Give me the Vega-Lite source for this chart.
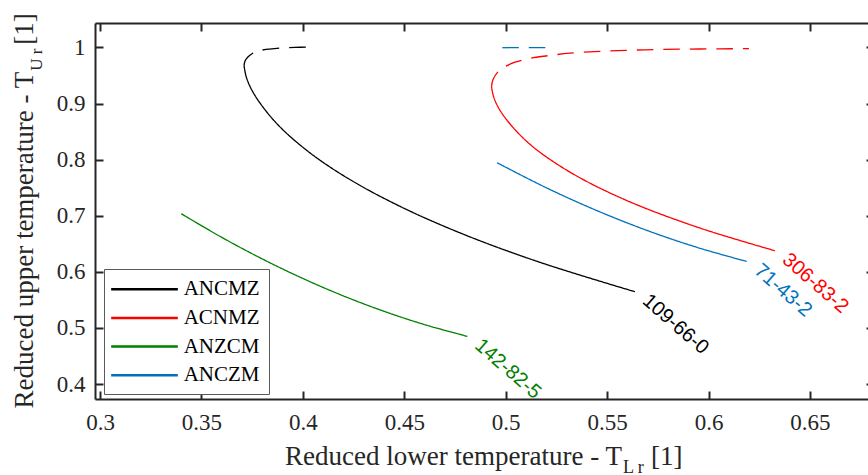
{
  "$schema": "https://vega.github.io/schema/vega-lite/v6.json",
  "width": 773,
  "height": 376,
  "autosize": "none",
  "padding": {"left": 95, "top": 23, "right": 0, "bottom": 76},
  "background": "white",
  "config": {
    "view": {"stroke": null},
    "axis": {
      "grid": false,
      "domainColor": "#262626",
      "domainWidth": 2,
      "tickColor": "#262626",
      "tickWidth": 2,
      "tickSize": -8,
      "labelFont": "Liberation Serif",
      "labelFontSize": 23,
      "labelColor": "#262626",
      "labelPadding": 18
    }
  },
  "datasets": {
    "curves": [
      {"s": "ANCMZ", "b": "dashed", "i": 0, "x": 0.3710, "y": 0.9674},
      {"s": "ANCMZ", "b": "dashed", "i": 1, "x": 0.3715, "y": 0.9763},
      {"s": "ANCMZ", "b": "dashed", "i": 2, "x": 0.3730, "y": 0.9834},
      {"s": "ANCMZ", "b": "dashed", "i": 3, "x": 0.3749, "y": 0.9888},
      {"s": "ANCMZ", "b": "dashed", "i": 4, "x": 0.3774, "y": 0.9932},
      {"s": "ANCMZ", "b": "dashed", "i": 5, "x": 0.3818, "y": 0.9963},
      {"s": "ANCMZ", "b": "dashed", "i": 6, "x": 0.3887, "y": 0.9989},
      {"s": "ANCMZ", "b": "dashed", "i": 7, "x": 0.3961, "y": 1.0000},
      {"s": "ANCMZ", "b": "dashed", "i": 8, "x": 0.4030, "y": 1.0005},
      {"s": "ANCMZ", "b": "solid", "i": 0, "x": 0.3710, "y": 0.9674},
      {"s": "ANCMZ", "b": "solid", "i": 1, "x": 0.3721, "y": 0.947},
      {"s": "ANCMZ", "b": "solid", "i": 2, "x": 0.3759, "y": 0.917},
      {"s": "ANCMZ", "b": "solid", "i": 3, "x": 0.3864, "y": 0.867},
      {"s": "ANCMZ", "b": "solid", "i": 4, "x": 0.4017, "y": 0.817},
      {"s": "ANCMZ", "b": "solid", "i": 5, "x": 0.4220, "y": 0.767},
      {"s": "ANCMZ", "b": "solid", "i": 6, "x": 0.4477, "y": 0.717},
      {"s": "ANCMZ", "b": "solid", "i": 7, "x": 0.4791, "y": 0.667},
      {"s": "ANCMZ", "b": "solid", "i": 8, "x": 0.5168, "y": 0.617},
      {"s": "ANCMZ", "b": "solid", "i": 9, "x": 0.5637, "y": 0.5645},

      {"s": "ACNMZ", "b": "dashed", "i": 0, "x": 0.4930, "y": 0.9299},
      {"s": "ACNMZ", "b": "dashed", "i": 1, "x": 0.4937, "y": 0.9424},
      {"s": "ACNMZ", "b": "dashed", "i": 2, "x": 0.4962, "y": 0.9567},
      {"s": "ACNMZ", "b": "dashed", "i": 3, "x": 0.4996, "y": 0.9656},
      {"s": "ACNMZ", "b": "dashed", "i": 4, "x": 0.5046, "y": 0.9736},
      {"s": "ACNMZ", "b": "dashed", "i": 5, "x": 0.5120, "y": 0.9807},
      {"s": "ACNMZ", "b": "dashed", "i": 6, "x": 0.5208, "y": 0.9852},
      {"s": "ACNMZ", "b": "dashed", "i": 7, "x": 0.5316, "y": 0.9897},
      {"s": "ACNMZ", "b": "dashed", "i": 8, "x": 0.5465, "y": 0.9929},
      {"s": "ACNMZ", "b": "dashed", "i": 9, "x": 0.5613, "y": 0.9950},
      {"s": "ACNMZ", "b": "dashed", "i": 10, "x": 0.5760, "y": 0.9963},
      {"s": "ACNMZ", "b": "dashed", "i": 11, "x": 0.5908, "y": 0.9970},
      {"s": "ACNMZ", "b": "dashed", "i": 12, "x": 0.6056, "y": 0.9975},
      {"s": "ACNMZ", "b": "dashed", "i": 13, "x": 0.6199, "y": 0.9977},
      {"s": "ACNMZ", "b": "solid", "i": 0, "x": 0.4930, "y": 0.9299},
      {"s": "ACNMZ", "b": "solid", "i": 1, "x": 0.4942, "y": 0.910},
      {"s": "ACNMZ", "b": "solid", "i": 2, "x": 0.4986, "y": 0.880},
      {"s": "ACNMZ", "b": "solid", "i": 3, "x": 0.5111, "y": 0.830},
      {"s": "ACNMZ", "b": "solid", "i": 4, "x": 0.5306, "y": 0.780},
      {"s": "ACNMZ", "b": "solid", "i": 5, "x": 0.5578, "y": 0.730},
      {"s": "ACNMZ", "b": "solid", "i": 6, "x": 0.5941, "y": 0.680},
      {"s": "ACNMZ", "b": "solid", "i": 7, "x": 0.6327, "y": 0.6376},

      {"s": "ANZCM", "b": "solid", "i": 0, "x": 0.340, "y": 0.7036},
      {"s": "ANZCM", "b": "solid", "i": 1, "x": 0.360, "y": 0.6614},
      {"s": "ANZCM", "b": "solid", "i": 2, "x": 0.380, "y": 0.6229},
      {"s": "ANZCM", "b": "solid", "i": 3, "x": 0.400, "y": 0.5881},
      {"s": "ANZCM", "b": "solid", "i": 4, "x": 0.420, "y": 0.5570},
      {"s": "ANZCM", "b": "solid", "i": 5, "x": 0.440, "y": 0.5296},
      {"s": "ANZCM", "b": "solid", "i": 6, "x": 0.460, "y": 0.5059},
      {"s": "ANZCM", "b": "solid", "i": 7, "x": 0.4811, "y": 0.4849},

      {"s": "ANCZM", "b": "dashed", "i": 0, "x": 0.4983, "y": 0.9995},
      {"s": "ANCZM", "b": "dashed", "i": 1, "x": 0.5197, "y": 0.9995},
      {"s": "ANCZM", "b": "solid", "i": 0, "x": 0.4957, "y": 0.7945},
      {"s": "ANCZM", "b": "solid", "i": 1, "x": 0.5200, "y": 0.7498},
      {"s": "ANCZM", "b": "solid", "i": 2, "x": 0.5450, "y": 0.7090},
      {"s": "ANCZM", "b": "solid", "i": 3, "x": 0.5700, "y": 0.6733},
      {"s": "ANCZM", "b": "solid", "i": 4, "x": 0.5950, "y": 0.6428},
      {"s": "ANCZM", "b": "solid", "i": 5, "x": 0.6188, "y": 0.6185}
    ],
    "tags": [
      {"s": "ANCMZ", "t": "109-66-0", "x": 0.5637, "y": 0.5645},
      {"s": "ACNMZ", "t": "306-83-2", "x": 0.6327, "y": 0.6376},
      {"s": "ANZCM", "t": "142-82-5", "x": 0.4811, "y": 0.4849},
      {"s": "ANCZM", "t": "71-43-2", "x": 0.6188, "y": 0.6185}
    ]
  },
  "resolve": {
    "axis": {"x": "independent", "y": "independent"},
    "legend": {"color": "independent"}
  },
  "layer": [
    {
      "data": {"name": "curves"},
      "mark": {"type": "line", "strokeWidth": 1.3, "interpolate": "catmull-rom"},
      "encoding": {
        "x": {
          "field": "x", "type": "quantitative",
          "scale": {"domain": [0.2975, 0.6786], "nice": false, "zero": false},
          "axis": {"orient": "bottom", "title": null, "values": [0.3, 0.35, 0.4, 0.45, 0.5, 0.55, 0.6, 0.65], "format": ".2~f", "labelPadding": 20.5}
        },
        "y": {
          "field": "y", "type": "quantitative",
          "scale": {"domain": [0.3733, 1.0435], "nice": false, "zero": false},
          "axis": {"orient": "left", "title": null, "values": [0.4, 0.5, 0.6, 0.7, 0.8, 0.9, 1], "format": ".1~f", "labelPadding": 18}
        },
        "color": {
          "field": "s", "type": "nominal",
          "scale": {"domain": ["ANCMZ", "ACNMZ", "ANZCM", "ANCZM"], "range": ["#000000", "#ff0000", "#008000", "#0072bd"]},
          "legend": {
            "title": null,
            "orient": "none",
            "legendX": 9,
            "legendY": 246,
            "symbolType": "M-1.305,0H5.365",
            "symbolSize": 400,
            "symbolStrokeWidth": 2.5,
            "labelFont": "Liberation Serif",
            "labelFontSize": 21,
            "labelColor": "#000000",
            "labelOffset": 48,
            "rowPadding": 6.7,
            "padding": 8.7,
            "strokeColor": "#5a5a5a",
            "fillColor": "white"
          }
        },
        "strokeDash": {
          "field": "b", "type": "nominal",
          "scale": {"domain": ["solid", "dashed"], "range": [[1, 0], [16.5, 10]]},
          "legend": null
        },
        "order": {"field": "i", "type": "quantitative"}
      }
    },
    {
      "data": {"name": "tags"},
      "mark": {"type": "text", "angle": 41, "align": "left", "baseline": "alphabetic", "dx": 12, "dy": 4, "font": "Liberation Sans", "fontSize": 20},
      "encoding": {
        "x": {"field": "x", "type": "quantitative", "axis": {"orient": "top", "title": null, "labels": false, "values": [0.3, 0.35, 0.4, 0.45, 0.5, 0.55, 0.6, 0.65]}},
        "y": {"field": "y", "type": "quantitative", "axis": {"orient": "right", "title": null, "labels": false, "domain": false, "tickSize": -2, "values": [0.4, 0.5, 0.6, 0.7, 0.8, 0.9, 1]}},
        "text": {"field": "t", "type": "nominal"},
        "color": {"field": "s", "type": "nominal", "legend": null}
      }
    },
    {
      "data": {"values": [{}]},
      "mark": {"type": "text", "text": "Reduced lower temperature - T", "align": "right", "baseline": "alphabetic", "font": "Liberation Serif", "fontSize": 27, "color": "#262626"},
      "encoding": {
        "x": {"datum": 0.5573, "type": "quantitative", "axis": null},
        "y": {"datum": 0.2561, "type": "quantitative", "axis": null}
      }
    },
    {
      "data": {"values": [{}]},
      "mark": {"type": "text", "text": "L r", "align": "left", "baseline": "alphabetic", "dx": 1, "dy": 8, "font": "Liberation Serif", "fontSize": 18, "color": "#262626"},
      "encoding": {
        "x": {"datum": 0.5573, "type": "quantitative", "axis": null},
        "y": {"datum": 0.2561, "type": "quantitative", "axis": null}
      }
    },
    {
      "data": {"values": [{}]},
      "mark": {"type": "text", "text": "[1]", "align": "left", "baseline": "alphabetic", "font": "Liberation Serif", "fontSize": 27, "color": "#262626"},
      "encoding": {
        "x": {"datum": 0.5716, "type": "quantitative", "axis": null},
        "y": {"datum": 0.2561, "type": "quantitative", "axis": null}
      }
    },
    {
      "data": {"values": [{}]},
      "mark": {"type": "text", "text": "Reduced upper temperature - T", "angle": 270, "align": "right", "baseline": "alphabetic", "font": "Liberation Serif", "fontSize": 27, "color": "#262626"},
      "encoding": {
        "x": {"datum": 0.26697, "type": "quantitative", "axis": null},
        "y": {"datum": 0.9567, "type": "quantitative", "axis": null}
      }
    },
    {
      "data": {"values": [{}]},
      "mark": {"type": "text", "text": "U r", "angle": 270, "align": "left", "baseline": "alphabetic", "dx": 1, "dy": 9, "font": "Liberation Serif", "fontSize": 17, "color": "#262626"},
      "encoding": {
        "x": {"datum": 0.26697, "type": "quantitative", "axis": null},
        "y": {"datum": 0.9567, "type": "quantitative", "axis": null}
      }
    },
    {
      "data": {"values": [{}]},
      "mark": {"type": "text", "text": "[1]", "angle": 270, "align": "left", "baseline": "alphabetic", "font": "Liberation Serif", "fontSize": 27, "color": "#262626"},
      "encoding": {
        "x": {"datum": 0.26697, "type": "quantitative", "axis": null},
        "y": {"datum": 1.0048, "type": "quantitative", "axis": null}
      }
    }
  ]
}
